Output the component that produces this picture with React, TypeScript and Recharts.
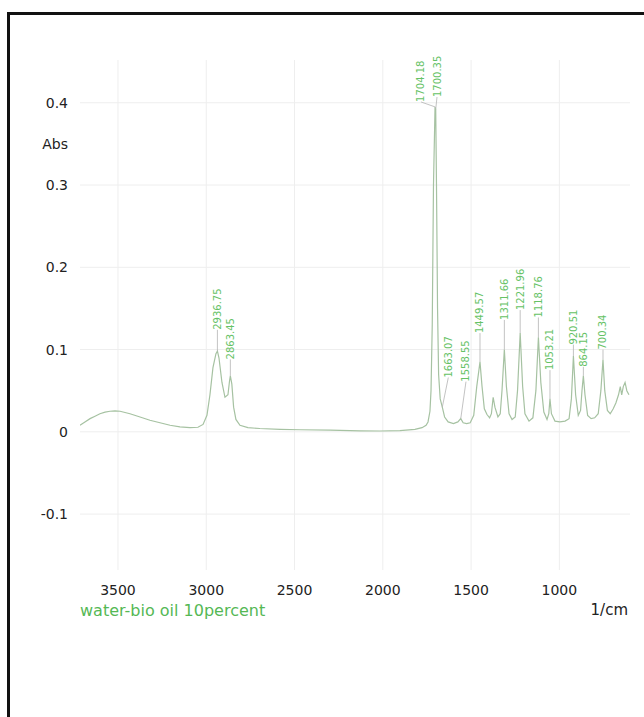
import React from "react";
import {
  ComposedChart,
  Line,
  XAxis,
  YAxis,
  CartesianGrid,
  Legend,
  ReferenceLine,
  ReferenceDot,
} from "recharts";

const FONT = '"DejaVu Sans", Verdana, sans-serif';

const seriesName = "water-bio oil 10percent";

// wavenumber (1/cm) and absorbance
const wavenumbers = [
  3715, 3687, 3658, 3630, 3602, 3573, 3545, 3517, 3488, 3432, 3375, 3319, 3262,
  3205, 3149, 3092, 3047, 3018, 2996, 2979, 2962, 2945, 2936.75, 2928, 2911,
  2894, 2877, 2868, 2863.45, 2855, 2845, 2832, 2809, 2764, 2696, 2582, 2469,
  2299, 2129, 2016, 1903, 1818, 1778, 1755, 1744, 1733, 1727, 1720, 1713,
  1704.18, 1700.35, 1696, 1690, 1684, 1675, 1663.07, 1650, 1630, 1600, 1575,
  1558.55, 1545, 1525, 1505, 1485, 1468, 1449.57, 1438, 1425, 1410, 1395, 1385,
  1375, 1365, 1348, 1335, 1325, 1311.66, 1300, 1285, 1268, 1250, 1237, 1221.96,
  1208, 1195, 1172, 1150, 1133, 1118.76, 1105, 1088, 1070, 1060, 1053.21, 1045,
  1025, 997, 968, 945, 932, 920.51, 908, 893, 880, 872, 864.15, 855, 840, 820,
  800, 780, 765, 753, 743, 728, 712, 695, 680, 665, 655, 647, 638, 628, 618, 606,
];

const absorbance = [
  0.008, 0.012, 0.016, 0.019, 0.022, 0.024, 0.025, 0.0255, 0.025, 0.022, 0.018,
  0.014, 0.011, 0.008, 0.006, 0.005, 0.0055, 0.009, 0.02, 0.045, 0.078, 0.095,
  0.098, 0.09, 0.06, 0.042, 0.045, 0.062, 0.068, 0.058, 0.03, 0.015, 0.008,
  0.005, 0.004, 0.003, 0.0025, 0.002, 0.0012, 0.001, 0.0015, 0.003, 0.005,
  0.008, 0.012, 0.025, 0.05, 0.13, 0.3, 0.395, 0.392, 0.3, 0.15, 0.07, 0.04,
  0.03, 0.018, 0.012, 0.01, 0.012, 0.016, 0.011, 0.01, 0.011, 0.02, 0.055,
  0.085, 0.055, 0.028, 0.021, 0.017, 0.022, 0.042, 0.03, 0.018, 0.022, 0.05,
  0.1, 0.055, 0.022, 0.015, 0.018, 0.05, 0.12, 0.055, 0.022, 0.013, 0.017, 0.05,
  0.115, 0.06, 0.024, 0.015, 0.022, 0.04, 0.022, 0.013, 0.012, 0.013, 0.016,
  0.04, 0.092, 0.045, 0.02, 0.026, 0.05, 0.068, 0.045, 0.02, 0.016, 0.017,
  0.022, 0.05, 0.088, 0.05, 0.026, 0.022, 0.028, 0.035, 0.045, 0.055, 0.045,
  0.055, 0.06, 0.05, 0.045,
];

// peak annotations: text, peak position, label foot position
const peakTexts = [
  "2936.75", "2863.45", "1704.18", "1700.35", "1663.07", "1558.55", "1449.57",
  "1311.66", "1221.96", "1118.76", "1053.21", "920.51", "864.15", "700.34",
];
const peakWn = [
  2936.75, 2863.45, 1704.18, 1700.35, 1663.07, 1558.55, 1449.57, 1311.66,
  1221.96, 1118.76, 1053.21, 920.51, 864.15, 753,
];
const peakAbs = [
  0.098, 0.068, 0.395, 0.392, 0.03, 0.016, 0.085, 0.1, 0.12, 0.115, 0.04,
  0.092, 0.068, 0.088,
];
const labelWn = [
  2936.75, 2863.45, 1784, 1693, 1629, 1529, 1449.57, 1311.66, 1221.96,
  1118.76, 1053.21, 920.51, 864.15, 753,
];
const labelAbs = [
  0.124, 0.088, 0.401, 0.407, 0.066, 0.061, 0.12, 0.136, 0.148, 0.139, 0.075,
  0.106, 0.079, 0.1,
];

const xTicks = [3500, 3000, 2500, 2000, 1500, 1000];
const yTicks = [-0.1, 0, 0.1, 0.2, 0.3, 0.4];

const spectrum = wavenumbers.map((wn, i) => ({ wn, abs: absorbance[i] }));

const LINE_COLOR = "#a6c2a2";
const LABEL_COLOR = "#66c266";

const PeakText = (text: string) => (props: any) => {
  const { cx, cy } = props;
  return (
    <text
      x={cx}
      y={cy}
      transform={`rotate(-90 ${cx} ${cy})`}
      textAnchor="start"
      dy="0.35em"
      fontSize={10}
      fontFamily={FONT}
      fill={LABEL_COLOR}
    >
      {text}
    </text>
  );
};

const LegendText = (props: any) => {
  const item = props.payload && props.payload[0];
  return (
    <span
      style={{
        fontFamily: FONT,
        fontSize: 16,
        color: "#55b855",
        whiteSpace: "nowrap",
        lineHeight: "16px",
      }}
    >
      {item ? item.value : seriesName}
    </span>
  );
};

export default function App() {
  return (
    <div style={{ position: "absolute", left: 0, top: 0, width: 644, height: 717 }}>
      <div
        style={{
          position: "absolute",
          left: 7,
          top: 12,
          width: 637,
          height: 705,
          borderTop: "3px solid #111",
          borderLeft: "3px solid #111",
          boxSizing: "border-box",
        }}
      />
      <div style={{ position: "absolute", left: 0, top: 0 }}>
        <ComposedChart
          width={644}
          height={717}
          data={spectrum}
          margin={{ top: 60, right: 14, bottom: 117, left: 20 }}
        >
          <CartesianGrid
            stroke="#eeeeee"
            strokeWidth={1}
            horizontalValues={yTicks}
            verticalValues={xTicks}
          />
          <XAxis
            dataKey="wn"
            type="number"
            domain={[600, 3715]}
            reversed
            ticks={xTicks}
            allowDataOverflow
            height={30}
            axisLine={false}
            tickLine={false}
            tickSize={0}
            tickMargin={15}
            tick={{ fontSize: 14, fill: "#222", fontFamily: FONT }}
          />
          <YAxis
            type="number"
            domain={[-0.168, 0.452]}
            ticks={yTicks}
            allowDataOverflow
            width={60}
            axisLine={false}
            tickLine={false}
            tickSize={0}
            tickMargin={12}
            tickFormatter={(v: number) => String(v)}
            tick={{ fontSize: 14, fill: "#222", fontFamily: FONT }}
          />
          <Legend
            layout="horizontal"
            verticalAlign="middle"
            align="center"
            content={LegendText}
            wrapperStyle={{ left: 80, top: 602, width: "auto" }}
          />
          <Line
            name={seriesName}
            dataKey="abs"
            type="linear"
            stroke={LINE_COLOR}
            strokeWidth={1.2}
            dot={false}
            isAnimationActive={false}
          />
          {peakTexts.map((t, i) => (
            <ReferenceLine
              key={"l" + t}
              segment={[
                { x: peakWn[i], y: peakAbs[i] },
                { x: labelWn[i], y: labelAbs[i] },
              ]}
              stroke="#b4b4b4"
              strokeWidth={0.8}
              ifOverflow="visible"
            />
          ))}
          {peakTexts.map((t, i) => (
            <ReferenceDot
              key={"t" + t}
              x={labelWn[i]}
              y={labelAbs[i]}
              r={0}
              ifOverflow="visible"
              shape={PeakText(t)}
            />
          ))}
        </ComposedChart>
      </div>
      <div
        style={{
          position: "absolute",
          left: 20,
          top: 137,
          width: 48,
          textAlign: "right",
          fontFamily: FONT,
          fontSize: 14,
          lineHeight: "14px",
          color: "#222",
        }}
      >
        Abs
      </div>
      <div
        style={{
          position: "absolute",
          left: 560,
          top: 603,
          width: 68,
          textAlign: "right",
          fontFamily: FONT,
          fontSize: 15,
          lineHeight: "15px",
          color: "#222",
        }}
      >
        1/cm
      </div>
    </div>
  );
}
